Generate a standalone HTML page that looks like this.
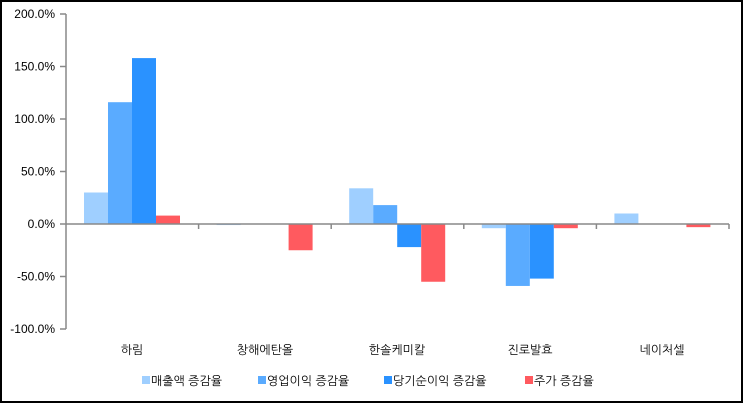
<!DOCTYPE html>
<html><head><meta charset="utf-8"><style>
html,body{margin:0;padding:0;background:#fff}
svg{display:block}
text{font-family:"Liberation Sans","NanumGothic","Noto Sans CJK KR",sans-serif;font-size:12px;fill:#000}
</style></head><body>
<svg width="743" height="403" viewBox="0 0 743 403" xmlns="http://www.w3.org/2000/svg">
<rect x="1" y="1" width="741" height="401" fill="#fff" stroke="#000" stroke-width="2"/>
<g id="bars"></g>
<g stroke="#888" stroke-width="1.5" fill="none">
<line x1="66" y1="14" x2="66" y2="329"/>
<line x1="66" y1="224" x2="729" y2="224"/>
<line x1="60" y1="14" x2="66" y2="14"/>
<line x1="60" y1="66.5" x2="66" y2="66.5"/>
<line x1="60" y1="119" x2="66" y2="119"/>
<line x1="60" y1="171.5" x2="66" y2="171.5"/>
<line x1="60" y1="224" x2="66" y2="224"/>
<line x1="60" y1="276.5" x2="66" y2="276.5"/>
<line x1="60" y1="329" x2="66" y2="329"/>
<line x1="198.6" y1="224" x2="198.6" y2="229"/>
<line x1="331.2" y1="224" x2="331.2" y2="229"/>
<line x1="463.8" y1="224" x2="463.8" y2="229"/>
<line x1="596.4" y1="224" x2="596.4" y2="229"/>
<line x1="729" y1="224" x2="729" y2="229"/>
</g>
<g text-anchor="end" font-size="11">
<text x="55" y="18">200.0%</text>
<text x="55" y="70.5">150.0%</text>
<text x="55" y="123">100.0%</text>
<text x="55" y="175.5">50.0%</text>
<text x="55" y="228">0.0%</text>
<text x="55" y="280.5">-50.0%</text>
<text x="55" y="333">-100.0%</text>
</g>
<g text-anchor="middle">
<text x="132" y="354">하림</text>
<text x="265" y="354">창해에탄올</text>
<text x="397" y="354">한솔케미칼</text>
<text x="530" y="354">진로발효</text>
<text x="662" y="354">네이처셀</text>
</g>
<rect x="142" y="376" width="8" height="8" fill="#9fcfff"/><text x="151" y="385">매출액 증감율</text>
<rect x="258" y="376" width="8" height="8" fill="#5aabff"/><text x="267" y="385">영업이익 증감율</text>
<rect x="384" y="376" width="8" height="8" fill="#2a92ff"/><text x="393" y="385">당기순이익 증감율</text>
<rect x="525" y="376" width="8" height="8" fill="#ff5a5f"/><text x="534" y="385">주가 증감율</text>
</svg>
<script>
var d=[[30,116,158,8],[-1,0,0,-25],[34,18,-22,-55],[-4,-59,-52,-4],[10,0,0,-3]];
var c=["#9fcfff","#5aabff","#2a92ff","#ff5a5f"];var s="";
for(var i=0;i<5;i++)for(var j=0;j<4;j++){var v=d[i][j];if(!v)continue;var h=Math.abs(v)*1.05;var x=84+i*132.6+j*24;var y=v>0?224-h:224;s+='<rect x="'+x+'" y="'+y+'" width="24" height="'+h+'" fill="'+c[j]+'"/>';}
document.getElementById("bars").innerHTML=s;
</script>
</body></html>
